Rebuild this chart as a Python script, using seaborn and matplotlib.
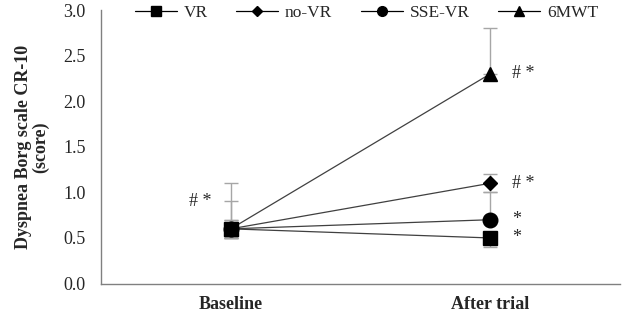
import matplotlib
matplotlib.use("Agg")
import matplotlib.pyplot as plt
from matplotlib.lines import Line2D
import seaborn as sns
import pandas as pd

# data
timepoints = ["Baseline", "After trial"]
groups = ["VR", "no-VR", "SSE-VR", "6MWT"]
means = {
    "VR": [0.6, 0.5],
    "no-VR": [0.6, 1.1],
    "SSE-VR": [0.6, 0.7],
    "6MWT": [0.6, 2.3],
}
err_low = {
    "VR": [0.1, 0.1],
    "no-VR": [0.1, 0.1],
    "SSE-VR": [0.1, 0.0],
    "6MWT": [0.1, 0.0],
}
err_high = {
    "VR": [0.1, 0.0],
    "no-VR": [0.3, 0.1],
    "SSE-VR": [0.1, 0.3],
    "6MWT": [0.5, 0.5],
}
marks = {"VR": "s", "no-VR": "D", "SSE-VR": "o", "6MWT": "^"}
sizes = {"VR": 10, "no-VR": 7.5, "SSE-VR": 10.5, "6MWT": 10.5}
leg_sizes = {"VR": 7, "no-VR": 5, "SSE-VR": 7, "6MWT": 7}
after_labels = {"VR": "*", "no-VR": "# *", "SSE-VR": "*", "6MWT": "# *"}
baseline_label = "# *"
baseline_label_y = 0.9

rows = []
for g in groups:
    for t, m in zip(timepoints, means[g]):
        rows.append({"group": g, "time": t, "score": m})
df = pd.DataFrame(rows)

sns.set_style("white")
plt.rcParams["font.family"] = ["Liberation Serif", "DejaVu Serif"]
plt.rcParams["font.size"] = 13

fig = plt.figure(figsize=(6.24, 3.14), dpi=100)
ax = fig.add_axes([0.1619, 0.097, 0.8317, 0.871])

# error bars first so markers sit on top
for g in groups:
    ax.errorbar(timepoints, means[g], yerr=[err_low[g], err_high[g]],
                fmt="none", ecolor="#a6a6a6", elinewidth=1, capsize=5,
                capthick=1, zorder=1)

sns.lineplot(data=df, x="time", y="score", hue="group", style="group",
             markers=marks, dashes=False, palette=["#404040"] * 4,
             linewidth=0.9, markersize=0, legend=False, ax=ax, zorder=2)

for g in groups:
    ax.plot(timepoints, means[g], linestyle="none", marker=marks[g],
            markersize=sizes[g], color="black", zorder=3)
    ax.annotate(after_labels[g], (1, means[g][1]), xytext=(16, 0),
                textcoords="offset points", ha="left", va="center",
                fontsize=13)
ax.annotate(baseline_label, (0, baseline_label_y), xytext=(-22, 0),
            textcoords="offset points", ha="center", va="center", fontsize=13)

ax.set_xlim(-0.5, 1.5)
ax.set_ylim(0, 3.0)
ax.set_yticks([0, 0.5, 1.0, 1.5, 2.0, 2.5, 3.0])
ax.set_yticklabels([f"{v:.1f}" for v in ax.get_yticks()])
ax.tick_params(axis="y", length=0, pad=11, labelsize=13)
ax.tick_params(axis="x", length=0, pad=9, labelsize=13)
for lab in ax.get_xticklabels():
    lab.set_fontweight("bold")
ax.set_xlabel("")
ax.set_ylabel("Dyspnea Borg scale CR-10\n(score)", fontweight="bold",
              fontsize=13, labelpad=10, linespacing=1.0)

for side in ["top", "right"]:
    ax.spines[side].set_visible(False)
for side in ["left", "bottom"]:
    ax.spines[side].set_color("#808080")
    ax.spines[side].set_linewidth(1)

handles = [Line2D([0], [0], color="black", linewidth=0.9, marker=marks[g],
                  markersize=leg_sizes[g]) for g in groups]
ax.legend(handles, groups, loc="center left", bbox_to_anchor=(0.0655, 0.989),
          ncol=4, frameon=False, handlelength=2.4, columnspacing=1.65,
          handletextpad=0.4, borderaxespad=0, borderpad=0, fontsize=12.5)

fig.savefig("out.png", dpi=100)
